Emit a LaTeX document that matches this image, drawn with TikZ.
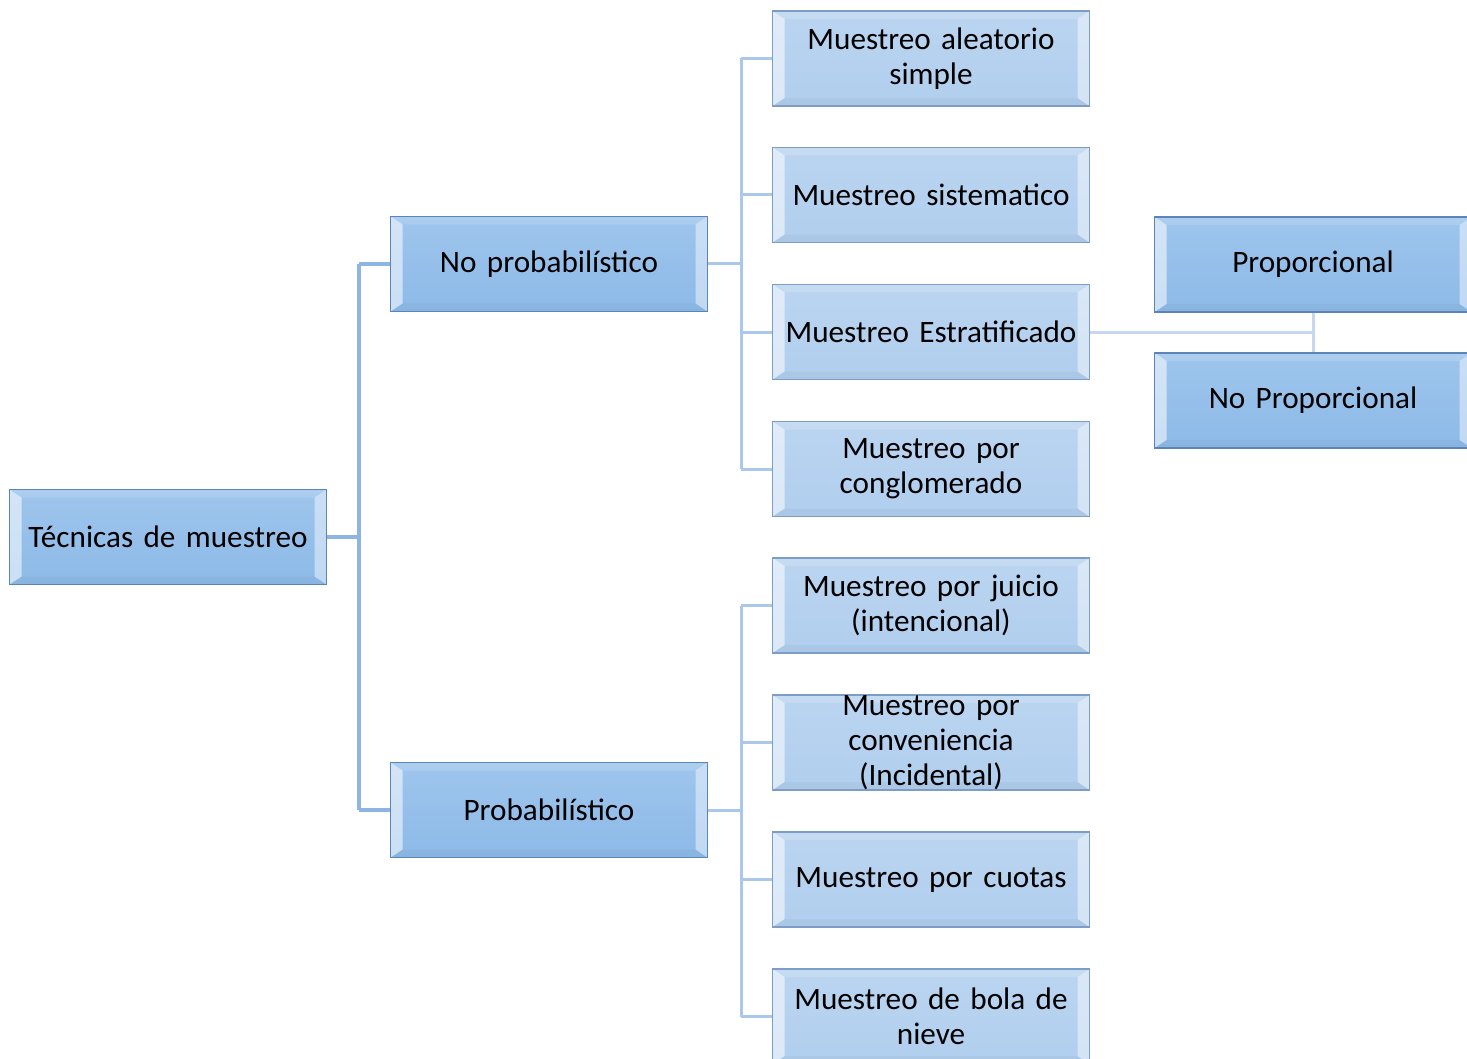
\documentclass[tikz,border=0pt]{standalone}
\usepackage{fontspec}
\setmainfont{Carlito}
\usetikzlibrary{calc}

\definecolor{fillA}{HTML}{8DBAE8}
\definecolor{fillAtop}{HTML}{9EC5EC}
\definecolor{edgeA}{HTML}{5B85B8}
\definecolor{fillB}{HTML}{B0CEEE}
\definecolor{fillBtop}{HTML}{BBD5F0}
\definecolor{edgeB}{HTML}{7E9DC6}
\definecolor{linkA}{HTML}{8DB4E2}
\definecolor{linkB}{HTML}{A9C8EC}
\definecolor{linkC}{HTML}{C6D7EE}

\tikzset{
  bevel/.style={
    path picture={
      \coordinate (bsw) at (path picture bounding box.south west);
      \coordinate (bne) at (path picture bounding box.north east);
      \coordinate (bnw) at (bsw|-bne);
      \coordinate (bse) at (bne|-bsw);
      % left and right bevel faces
      \fill[white,opacity=0.55] (bsw) -- (bnw) -- ($(bnw)+(6pt,-4pt)$) -- ($(bsw)+(6pt,4pt)$) -- cycle;
      \fill[white,opacity=0.45] (bse) -- (bne) -- ($(bne)+(-6pt,-4pt)$) -- ($(bse)+(-6pt,4pt)$) -- cycle;
      % top and bottom bevel faces
      \fill[white,opacity=0.15] (bnw) -- (bne) -- ($(bne)+(-6pt,-4pt)$) -- ($(bnw)+(6pt,-4pt)$) -- cycle;
      \fill[black,opacity=0.03] (bsw) -- (bse) -- ($(bse)+(-6pt,4pt)$) -- ($(bsw)+(6pt,4pt)$) -- cycle;
    }},
  boxA/.style={bevel, draw=edgeA, line width=0.6pt, top color=fillAtop, bottom color=fillA,
    minimum width=158.5pt, minimum height=47.5pt, inner sep=0pt,
    text width=152pt, align=center, font=\fontsize{15.6}{17.5}\selectfont},
  boxB/.style={boxA, draw=edgeB, top color=fillBtop, bottom color=fillB},
  linkmain/.style={linkA, line width=1.8pt},
  link/.style={linkB, line width=1.5pt},
  linklight/.style={linkC, line width=1.5pt},
}

\begin{document}
\begin{tikzpicture}[x=0.5pt,y=-0.5pt]
  \useasboundingbox (0,0) rectangle (1467,1059);

  % root and first level
  \node[boxA] (tec) at (168,537) {Técnicas de muestreo};
  \node[boxA] (nop) at (549,264) {No probabilístico};
  \node[boxA] (pro) at (549,810) {Probabilístico};

  % second level, upper group
  \node[boxB] (ale) at (931,58.5) {Muestreo aleatorio\\simple};
  \node[boxB] (sis) at (931,195) {Muestreo sistematico};
  \node[boxB] (est) at (931,332) {Muestreo Estratificado};
  \node[boxB] (con) at (931,469) {Muestreo por\\conglomerado};

  % second level, lower group
  \node[boxB] (jui) at (931,605.5) {Muestreo por juicio\\(intencional)};
  \node[boxB] (cnv) at (931,742.5) {Muestreo por\\conveniencia\\(Incidental)};
  \node[boxB] (cuo) at (931,879.5) {Muestreo por cuotas};
  \node[boxB] (bol) at (931,1016.5) {Muestreo de bola de\\nieve};

  % third level
  \node[boxA] (ppr) at (1313,264.5) {Proporcional};
  \node[boxA] (npr) at (1313,400.5) {No Proporcional};

  % connectors from the root
  \draw[linkmain] (tec.east) -- ++(32,0) coordinate (j0);
  \draw[linkmain] (j0|-nop.west) -- (nop.west);
  \draw[linkmain] (j0|-pro.west) -- (pro.west);
  \draw[linkmain] (j0|-nop.west) -- (j0|-pro.west);

  % connectors of the upper group
  \draw[link] (nop.east) -- ++(33,0) coordinate (j1);
  \draw[link] (j1|-ale.west) -- (j1|-con.west);
  \foreach \n in {ale,sis,est,con}
    \draw[link] (j1|-\n.west) -- (\n.west);

  % connectors of the lower group
  \draw[link] (pro.east) -- ++(33,0) coordinate (j2);
  \draw[link] (j2|-jui.west) -- (j2|-bol.west);
  \foreach \n in {jui,cnv,cuo,bol}
    \draw[link] (j2|-\n.west) -- (\n.west);

  % connectors of the stratified branch
  \draw[linklight] (est.east) -- (est.east-|ppr.south) coordinate (j3);
  \draw[linklight] (ppr.south) -- (npr.north);
\end{tikzpicture}
\end{document}
